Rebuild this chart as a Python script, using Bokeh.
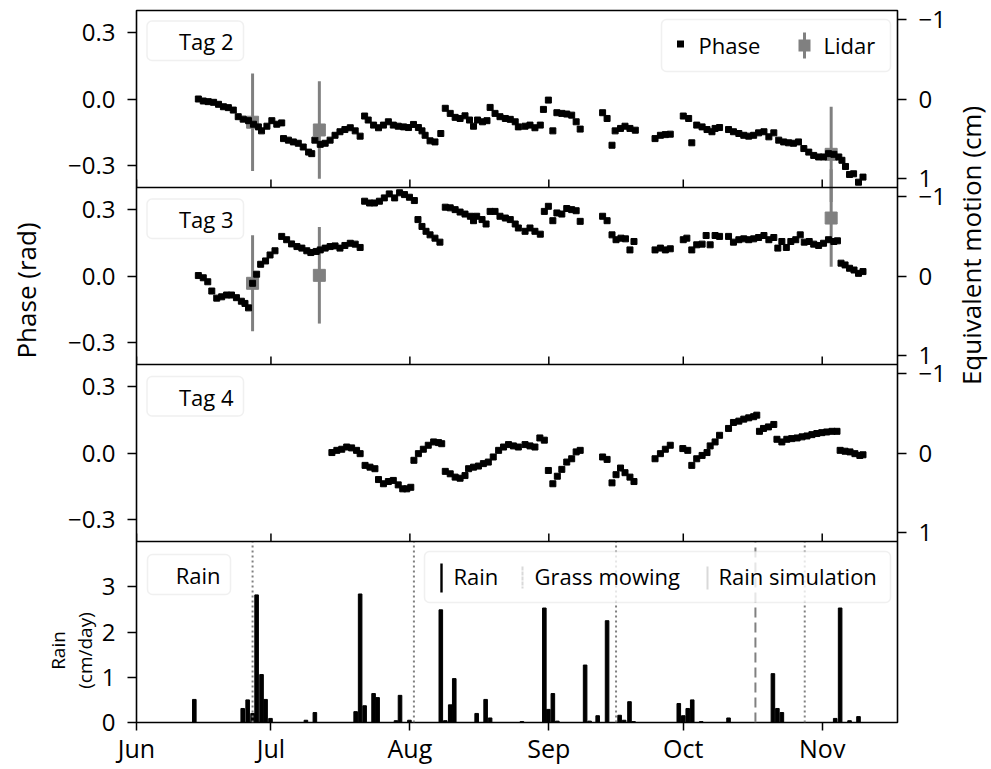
import math
import pandas as pd
from bokeh.plotting import figure
from bokeh.models import (Range1d, LinearAxis, FixedTicker, CustomJSTickFormatter,
                          Span, Label, BoxAnnotation, ColumnDataSource, GridBox)
from bokeh.embed import file_html
from bokeh.resources import INLINE

# ---------------- data (days after 1 June) ----------------
START_DATE = "2019-06-01"
X_END_DAYS = 169.8

TAG2_DAYS = [13.8, 14.9, 16.0, 17.2, 18.3, 19.4, 20.5, 21.6, 22.7, 23.8, 25.0, 26.1, 27.2, 27.9, 29.1,
             30.2, 31.3, 32.4, 32.8, 33.9, 35.0, 36.1, 37.2, 38.4, 39.1, 39.8, 41.0, 42.1, 43.2, 44.3,
             45.4, 46.5, 47.7, 48.8, 49.9, 50.9, 51.7, 52.9, 54.0, 55.1, 56.2, 57.3, 58.4, 59.6, 60.7,
             61.8, 62.9, 63.7, 64.4, 65.5, 66.6, 67.9, 68.9, 70.0, 71.1, 72.2, 73.3, 74.3, 75.2, 76.1,
             77.2, 78.2, 78.9, 80.0, 81.1, 82.3, 83.4, 84.5, 85.2, 86.7, 87.8, 88.9, 90.1, 90.8, 91.9,
             92.9, 93.8, 94.9, 96.0, 97.1, 98.1, 99.0, 104.0, 105.0, 106.1, 106.8, 108.0, 109.0, 110.1,
             111.3, 115.7, 116.9, 118.0, 119.1, 122.0, 123.2, 123.9, 125.0, 126.2, 127.3, 128.4, 129.1,
             130.1, 132.1, 133.2, 134.4, 135.5, 136.6, 137.7, 138.8, 140.0, 141.1, 142.2, 143.3, 144.4,
             145.5, 146.6, 147.7, 148.9, 150.0, 151.1, 152.2, 153.3, 154.4, 155.6, 156.7, 157.4, 158.2,
             159.1, 160.0, 161.1, 162.1]
TAG2_PHASE = [0.000, -0.009, -0.012, -0.015, -0.024, -0.035, -0.039, -0.050, -0.080, -0.091, -0.098,
              -0.114, -0.126, -0.144, -0.123, -0.098, -0.114, -0.108, -0.179, -0.186, -0.194, -0.200,
              -0.217, -0.240, -0.247, -0.186, -0.205, -0.200, -0.186, -0.164, -0.148, -0.138, -0.130,
              -0.144, -0.168, -0.077, -0.095, -0.118, -0.130, -0.118, -0.103, -0.118, -0.123, -0.126,
              -0.129, -0.115, -0.129, -0.144, -0.164, -0.189, -0.194, -0.156, -0.042, -0.065, -0.083,
              -0.088, -0.076, -0.095, -0.123, -0.095, -0.103, -0.098, -0.038, -0.065, -0.080, -0.088,
              -0.092, -0.103, -0.126, -0.123, -0.118, -0.130, -0.118, -0.047, -0.005, -0.144, -0.062,
              -0.065, -0.068, -0.073, -0.103, -0.136, -0.062, -0.088, -0.209, -0.144, -0.133, -0.123,
              -0.133, -0.141, -0.179, -0.164, -0.161, -0.159, -0.077, -0.088, -0.198, -0.118, -0.126,
              -0.138, -0.148, -0.133, -0.129, -0.138, -0.148, -0.156, -0.164, -0.168, -0.164, -0.153,
              -0.148, -0.171, -0.153, -0.186, -0.194, -0.198, -0.200, -0.194, -0.224, -0.240, -0.255,
              -0.262, -0.262, -0.247, -0.250, -0.262, -0.277, -0.305, -0.341, -0.338, -0.376, -0.353]

TAG3_DAYS = [13.8, 14.9, 15.9, 16.8, 17.9, 19.0, 20.1, 21.2, 22.3, 23.4, 24.2, 25.0, 25.9, 26.8, 27.7,
             28.8, 29.8, 30.9, 32.4, 33.5, 34.6, 35.8, 36.9, 38.0, 38.9, 40.1, 41.0, 42.1, 43.2, 44.3,
             45.4, 46.5, 47.7, 48.8, 49.9, 50.9, 52.0, 53.1, 54.2, 55.3, 56.4, 57.6, 58.7, 59.8, 60.9,
             62.0, 62.8, 63.7, 64.6, 65.5, 66.6, 67.7, 68.9, 70.0, 71.1, 72.2, 73.3, 74.5, 75.2, 75.9,
             77.1, 78.0, 78.9, 80.0, 81.1, 82.3, 83.4, 84.5, 85.2, 86.7, 87.8, 88.9, 90.1, 91.0, 91.9,
             92.9, 93.8, 94.9, 96.0, 97.1, 98.1, 99.0, 104.0, 105.0, 106.1, 107.0, 108.1, 109.1, 110.1,
             111.0, 115.7, 116.9, 118.0, 119.1, 122.0, 122.8, 123.9, 125.0, 126.2, 127.1, 128.0, 129.1,
             130.1, 132.1, 133.2, 134.4, 135.5, 136.6, 137.7, 138.8, 140.0, 141.1, 142.2, 143.1, 144.0,
             145.0, 146.0, 147.1, 148.1, 149.0, 150.1, 151.1, 152.2, 153.3, 154.4, 155.6, 156.4, 157.2,
             158.1, 159.1, 160.1, 161.1, 162.1]
TAG3_PHASE = [0.002, -0.008, -0.026, -0.068, -0.100, -0.094, -0.086, -0.086, -0.098, -0.114, -0.124,
              -0.144, -0.033, 0.008, 0.053, 0.068, 0.095, 0.114, 0.179, 0.164, 0.145, 0.133, 0.126,
              0.114, 0.106, 0.111, 0.118, 0.126, 0.133, 0.136, 0.126, 0.138, 0.148, 0.144, 0.129,
              0.338, 0.330, 0.330, 0.338, 0.353, 0.371, 0.353, 0.376, 0.368, 0.356, 0.341, 0.255,
              0.224, 0.202, 0.186, 0.171, 0.153, 0.311, 0.308, 0.300, 0.289, 0.280, 0.270, 0.250,
              0.270, 0.255, 0.235, 0.292, 0.292, 0.270, 0.262, 0.255, 0.235, 0.217, 0.202, 0.217,
              0.202, 0.189, 0.292, 0.315, 0.250, 0.285, 0.280, 0.305, 0.300, 0.295, 0.247, 0.270,
              0.250, 0.186, 0.164, 0.171, 0.168, 0.118, 0.156, 0.118, 0.126, 0.118, 0.123, 0.164,
              0.171, 0.118, 0.141, 0.144, 0.183, 0.141, 0.183, 0.179, 0.179, 0.153, 0.164, 0.168,
              0.164, 0.168, 0.174, 0.183, 0.164, 0.174, 0.126, 0.156, 0.129, 0.156, 0.164, 0.186,
              0.153, 0.156, 0.144, 0.138, 0.148, 0.164, 0.156, 0.159, 0.058, 0.050, 0.035, 0.027,
              0.012, 0.020]

TAG4_DAYS = [43.6, 44.7, 45.8, 46.9, 48.0, 49.1, 49.9, 51.0, 52.1, 53.2, 54.0, 55.1, 56.2, 57.3, 58.4,
             59.4, 60.3, 61.2, 61.9, 62.9, 64.0, 65.1, 66.3, 67.4, 68.1, 68.9, 70.0, 71.1, 72.2, 73.3,
             74.1, 75.2, 76.3, 77.4, 78.5, 79.6, 80.8, 81.9, 83.0, 84.1, 85.2, 86.7, 87.8, 88.9, 90.0,
             91.0, 91.9, 92.9, 93.9, 94.9, 96.0, 97.1, 98.1, 99.0, 104.0, 105.0, 106.1, 107.0, 108.0,
             109.0, 110.1, 111.0, 115.7, 116.9, 118.0, 119.1, 121.9, 123.0, 123.9, 125.0, 126.2, 127.3,
             128.0, 129.1, 130.1, 132.1, 133.2, 134.4, 135.5, 136.6, 137.7, 138.4, 139.0, 139.9, 141.0,
             142.2, 142.9, 144.0, 145.1, 146.2, 147.4, 148.5, 149.6, 150.7, 151.8, 152.9, 154.0, 155.2,
             156.3, 157.0, 158.1, 159.2, 160.3, 161.4, 162.1]
TAG4_PHASE = [0.002, 0.012, 0.017, 0.027, 0.023, 0.012, -0.003, -0.056, -0.064, -0.071, -0.120,
              -0.139, -0.129, -0.124, -0.144, -0.162, -0.162, -0.155, -0.033, -0.003, 0.017, 0.035,
              0.050, 0.047, 0.042, -0.083, -0.094, -0.109, -0.114, -0.102, -0.071, -0.064, -0.059,
              -0.048, -0.041, -0.018, 0.012, 0.027, 0.038, 0.032, 0.027, 0.038, 0.032, 0.027, 0.068,
              0.058, -0.079, -0.139, -0.105, -0.074, -0.041, -0.026, 0.005, 0.012, -0.018, -0.029,
              -0.135, -0.098, -0.068, -0.089, -0.109, -0.129, -0.026, -0.003, 0.017, 0.035, 0.020,
              0.012, -0.056, -0.026, -0.011, 0.002, 0.032, 0.050, 0.080, 0.111, 0.138, 0.144, 0.153,
              0.159, 0.164, 0.171, 0.098, 0.111, 0.118, 0.129, 0.062, 0.050, 0.062, 0.065, 0.068,
              0.073, 0.077, 0.083, 0.088, 0.092, 0.095, 0.098, 0.098, 0.012, 0.008, 0.005, -0.003,
              -0.011, -0.008]

LIDAR_DAYS = [25.9, 40.8, 155.0]
LIDAR_TAG2 = [-0.105, -0.140, -0.250]
LIDAR_TAG2_ERR = [0.220, 0.220, 0.215]
LIDAR_TAG3 = [-0.033, 0.003, 0.262]
LIDAR_TAG3_ERR = [0.217, 0.218, 0.220]

RAIN_DAYS = [12.9, 23.7, 24.8, 25.9, 26.8, 27.9, 28.8, 29.9, 37.8, 39.8, 48.9, 49.9, 50.9, 52.9, 53.8,
             57.9, 58.8, 60.9, 67.9, 68.9, 70.0, 70.9, 75.9, 77.9, 78.9, 86.0, 91.0, 91.9, 92.9, 93.9,
             100.1, 101.1, 102.9, 105.0, 107.8, 108.8, 110.0, 110.9, 121.0, 122.0, 123.0, 124.0, 126.0,
             132.1, 142.0, 143.0, 144.0, 155.9, 157.0, 159.1, 161.1]
RAIN_CM = [0.51, 0.31, 0.50, 0.20, 2.82, 1.06, 0.51, 0.09, 0.05, 0.22, 0.24, 2.84, 0.37, 0.64, 0.55,
           0.04, 0.60, 0.05, 2.49, 0.04, 0.39, 0.97, 0.20, 0.51, 0.10, 0.02, 2.53, 0.29, 0.64, 0.03,
           1.27, 0.03, 0.15, 2.25, 0.16, 0.05, 0.46, 0.02, 0.42, 0.15, 0.31, 0.50, 0.02,
           0.10, 1.08, 0.31, 0.22, 0.09, 2.53, 0.04, 0.13]

MOWING_DAYS = [25.9, 61.9, 107.0, 149.1]
RAIN_SIM_DAYS = [138.1]

PHASE_TICKS = [-0.3, 0.0, 0.3]
MOTION_TICKS = [-1, 0, 1]
RAIN_TICKS = [0, 1, 2, 3]
PHASE_LIM = 0.4
CM_PER_RAD = 2.8
RAIN_MAX = 4.0

# ---------------- layout / style ----------------
FONT = "Open Sans"
GRAY = "#808080"
EDGE = "#cccccc"
FIG_W, FIG_H = 990, 768
BORDER_L, BORDER_T = 136, 10
FRAME_W, FRAME_H = 761, 712
BORDER_R = FIG_W - BORDER_L - FRAME_W
BORDER_B = FIG_H - BORDER_T - FRAME_H
PANEL_H, RAIN_H = 177, 181
BAND_RAIN = (0, RAIN_H)
BAND_TAG4 = (RAIN_H, RAIN_H + PANEL_H)
BAND_TAG3 = (RAIN_H + PANEL_H, RAIN_H + 2 * PANEL_H)
BAND_TAG2 = (RAIN_H + 2 * PANEL_H, RAIN_H + 3 * PANEL_H)

DAY_MS = 86400000.0
START_MS = pd.Timestamp(START_DATE).value / 1e6
X0 = START_MS
X1 = START_MS + X_END_DAYS * DAY_MS
MONTH_TICKS = [t.value / 1e6 for t in pd.date_range(START_DATE, periods=6, freq="MS")]


def to_ms(days):
    return [START_MS + d * DAY_MS for d in days]


def band_range(lo, hi, band):
    b, t = band
    s = (hi - lo) / (t - b)
    return Range1d(start=lo - b * s, end=hi + (FRAME_H - t) * s)


def to_px(v, lo, hi, band):
    b, t = band
    return round(b + (v - lo) / (hi - lo) * (t - b), 4)


def fmt_num(v, nd):
    s = f"{abs(v):.{nd}f}"
    return ("\u2212" + s) if v < 0 else s


def X(page_x):
    return X0 + (page_x - BORDER_L) / FRAME_W * (X1 - X0)


def Y(page_y):
    return FRAME_H - (page_y - BORDER_T)


LOOKUP_JS = "const i = pos.findIndex(t => Math.abs(t - tick) < 1e-3); return i < 0 ? '' : labs[i];"

p = figure(width=FIG_W, height=FIG_H, x_range=Range1d(X0, X1), y_range=Range1d(0, FRAME_H),
           x_axis_type="datetime", title=None, toolbar_location=None, output_backend="svg",
           min_border_left=BORDER_L, min_border_right=BORDER_R,
           min_border_top=BORDER_T, min_border_bottom=BORDER_B)
p.grid.visible = False
p.outline_line_color = "black"
p.outline_line_width = 1.6
p.background_fill_color = "white"
p.border_fill_color = "white"
p.extra_y_ranges = {
    "tag2": band_range(-PHASE_LIM, PHASE_LIM, BAND_TAG2),
    "tag3": band_range(-PHASE_LIM, PHASE_LIM, BAND_TAG3),
    "tag4": band_range(-PHASE_LIM, PHASE_LIM, BAND_TAG4),
    "rain": band_range(0, RAIN_MAX, BAND_RAIN),
}


def style_axis(ax, tick_out=9, size="24px"):
    ax.axis_line_color = None
    ax.major_tick_out = tick_out
    ax.major_tick_in = 0
    ax.major_tick_line_color = "black"
    ax.major_tick_line_width = 1.5
    ax.minor_tick_line_color = None
    ax.major_label_text_font = FONT
    ax.major_label_text_font_size = size
    ax.major_label_text_color = "black"


xa = p.xaxis[0]
xa.ticker = FixedTicker(ticks=MONTH_TICKS)
xa.formatter = CustomJSTickFormatter(code='const m=["Jan","Feb","Mar","Apr","May","Jun","Jul",'
                                          '"Aug","Sep","Oct","Nov","Dec"];'
                                          'return m[new Date(tick).getUTCMonth()];')
style_axis(xa, tick_out=8, size="25px")
xa.major_label_standoff = 0

left_pos, left_lab = [], []
for band in (BAND_TAG2, BAND_TAG3, BAND_TAG4):
    for v in PHASE_TICKS:
        left_pos.append(to_px(v, -PHASE_LIM, PHASE_LIM, band))
        left_lab.append(fmt_num(v, 1))
for v in RAIN_TICKS:
    left_pos.append(to_px(v, 0, RAIN_MAX, BAND_RAIN))
    left_lab.append(str(v))
ya = p.yaxis[0]
ya.ticker = FixedTicker(ticks=left_pos)
ya.formatter = CustomJSTickFormatter(args=dict(pos=left_pos, labs=left_lab), code=LOOKUP_JS)
style_axis(ya)
ya.major_label_standoff = 12

right_pos, right_lab = [], []
for band in (BAND_TAG2, BAND_TAG3, BAND_TAG4):
    for m in MOTION_TICKS:
        right_pos.append(to_px(-m / CM_PER_RAD, -PHASE_LIM, PHASE_LIM, band))
        right_lab.append(fmt_num(m, 0))
ra = LinearAxis(ticker=FixedTicker(ticks=right_pos),
                formatter=CustomJSTickFormatter(args=dict(pos=right_pos, labs=right_lab), code=LOOKUP_JS))
style_axis(ra)
ra.major_label_standoff = 12
p.add_layout(ra, "right")

for band in (BAND_TAG4, BAND_TAG3, BAND_TAG2):
    p.add_layout(Span(location=band[0], dimension="width", line_color="black", line_width=1.6))
SEPS = (BAND_TAG4, BAND_TAG3, BAND_TAG2)
sep_ticks = ColumnDataSource(dict(
    x=[m for band in SEPS for m in MONTH_TICKS],
    y0=[band[0] for band in SEPS for m in MONTH_TICKS],
    y1=[band[0] + 8 for band in SEPS for m in MONTH_TICKS]))
p.segment(x0="x", x1="x", y0="y0", y1="y1", source=sep_ticks, line_color="black", line_width=1.5)

# ---- data ----
for name, vals, errs in (("tag2", LIDAR_TAG2, LIDAR_TAG2_ERR), ("tag3", LIDAR_TAG3, LIDAR_TAG3_ERR)):
    p.segment(x0=to_ms(LIDAR_DAYS), x1=to_ms(LIDAR_DAYS),
              y0=[v - e for v, e in zip(vals, errs)], y1=[v + e for v, e in zip(vals, errs)],
              line_color=GRAY, line_width=3, y_range_name=name)
    p.scatter(to_ms(LIDAR_DAYS), vals, marker="square", size=12, color=GRAY, y_range_name=name)
for name, days, vals in (("tag2", TAG2_DAYS, TAG2_PHASE), ("tag3", TAG3_DAYS, TAG3_PHASE),
                         ("tag4", TAG4_DAYS, TAG4_PHASE)):
    p.scatter(to_ms(days), vals, marker="square", size=6, color="black", y_range_name=name)

p.vbar(x=to_ms(RAIN_DAYS), top=RAIN_CM, width=0.8 * DAY_MS, color="black", y_range_name="rain")
p.segment(x0=to_ms(MOWING_DAYS), x1=to_ms(MOWING_DAYS), y0=[0] * len(MOWING_DAYS),
          y1=[RAIN_MAX] * len(MOWING_DAYS), line_color=GRAY, line_dash="2 3", line_width=2,
          y_range_name="rain")
p.segment(x0=to_ms(RAIN_SIM_DAYS), x1=to_ms(RAIN_SIM_DAYS), y0=[0] * len(RAIN_SIM_DAYS),
          y1=[RAIN_MAX] * len(RAIN_SIM_DAYS), line_color=GRAY, line_dash="10 5", line_width=2,
          y_range_name="rain")


# ---- legends / tag boxes (page-pixel geometry) ----
def box(x0, x1, y0, y1, **kw):
    p.add_layout(BoxAnnotation(left=X(x0), right=X(x1), top=Y(y0), bottom=Y(y1), **kw))


def frame_box(x0, x1, y0, y1):
    box(x0, x1, y0, y1, fill_color="white", fill_alpha=0.8, line_color=EDGE, line_width=1.5,
        border_radius=5)


def text(x, y, t, align="left", size="22px"):
    p.add_layout(Label(x=X(x), y=Y(y), text=t, text_align=align, text_baseline="middle",
                       text_font=FONT, text_font_size=size, text_color="black"))


for t, top in (("Tag 2", 20.5), ("Tag 3", 198.5), ("Tag 4", 376)):
    frame_box(146.5, 243, top, top + 39.5)
    text(233, top + 20, t, align="right")
frame_box(147, 230, 554, 594)
text(220, 574, "Rain", align="right")

frame_box(661, 890, 19, 71)
box(676.5, 683.5, 40, 47, fill_color="black", fill_alpha=1, line_color=None)
text(698, 44, "Phase")
box(802.5, 805.5, 32, 58, fill_color=GRAY, fill_alpha=1, line_color=None)
box(798, 810, 39, 51, fill_color=GRAY, fill_alpha=1, line_color=None)
text(823, 44, "Lidar")

frame_box(424, 890, 551, 602)
box(439.8, 442.2, 563, 592, fill_color="black", fill_alpha=1, line_color=None)
text(453, 575, "Rain")
box(522, 522, 566, 588, fill_alpha=0, line_color=GRAY, line_dash="2 3", line_width=2)
text(534, 575, "Grass mowing")
box(707, 707, 566, 589, fill_alpha=0, line_color=GRAY, line_dash="10 5", line_width=2)
text(718, 575, "Rain simulation")

# ---- transparent overlay carrying the axis titles in its side panels ----
ov = figure(width=FIG_W, height=FIG_H,
            x_range=Range1d(BORDER_L, BORDER_L + FRAME_W),
            y_range=Range1d(BORDER_T + FRAME_H, BORDER_T),
            title=None, toolbar_location=None, output_backend="svg",
            min_border_left=BORDER_L, min_border_right=BORDER_R,
            min_border_top=BORDER_T, min_border_bottom=BORDER_B,
            x_axis_location=None, y_axis_location=None)
ov.grid.visible = False
ov.outline_line_color = None
ov.background_fill_color = None
ov.border_fill_color = None
for x, y, t, size, side in ((25, 290, "Phase (rad)", "26px", "left"),
                            (57, 650, "Rain", "19px", "left"),
                            (84, 650, "(cm/day)", "19px", "left"),
                            (970, 245, "Equivalent motion (cm)", "26px", "right")):
    ov.add_layout(Label(x=x, y=y, text=t, angle=math.pi / 2, text_align="center",
                        text_baseline="middle", text_font=FONT, text_font_size=size,
                        text_color="black"), side)

layout = GridBox(children=[(p, 0, 0), (ov, 0, 0)])
open("out.html", "w").write(file_html(layout, INLINE))
